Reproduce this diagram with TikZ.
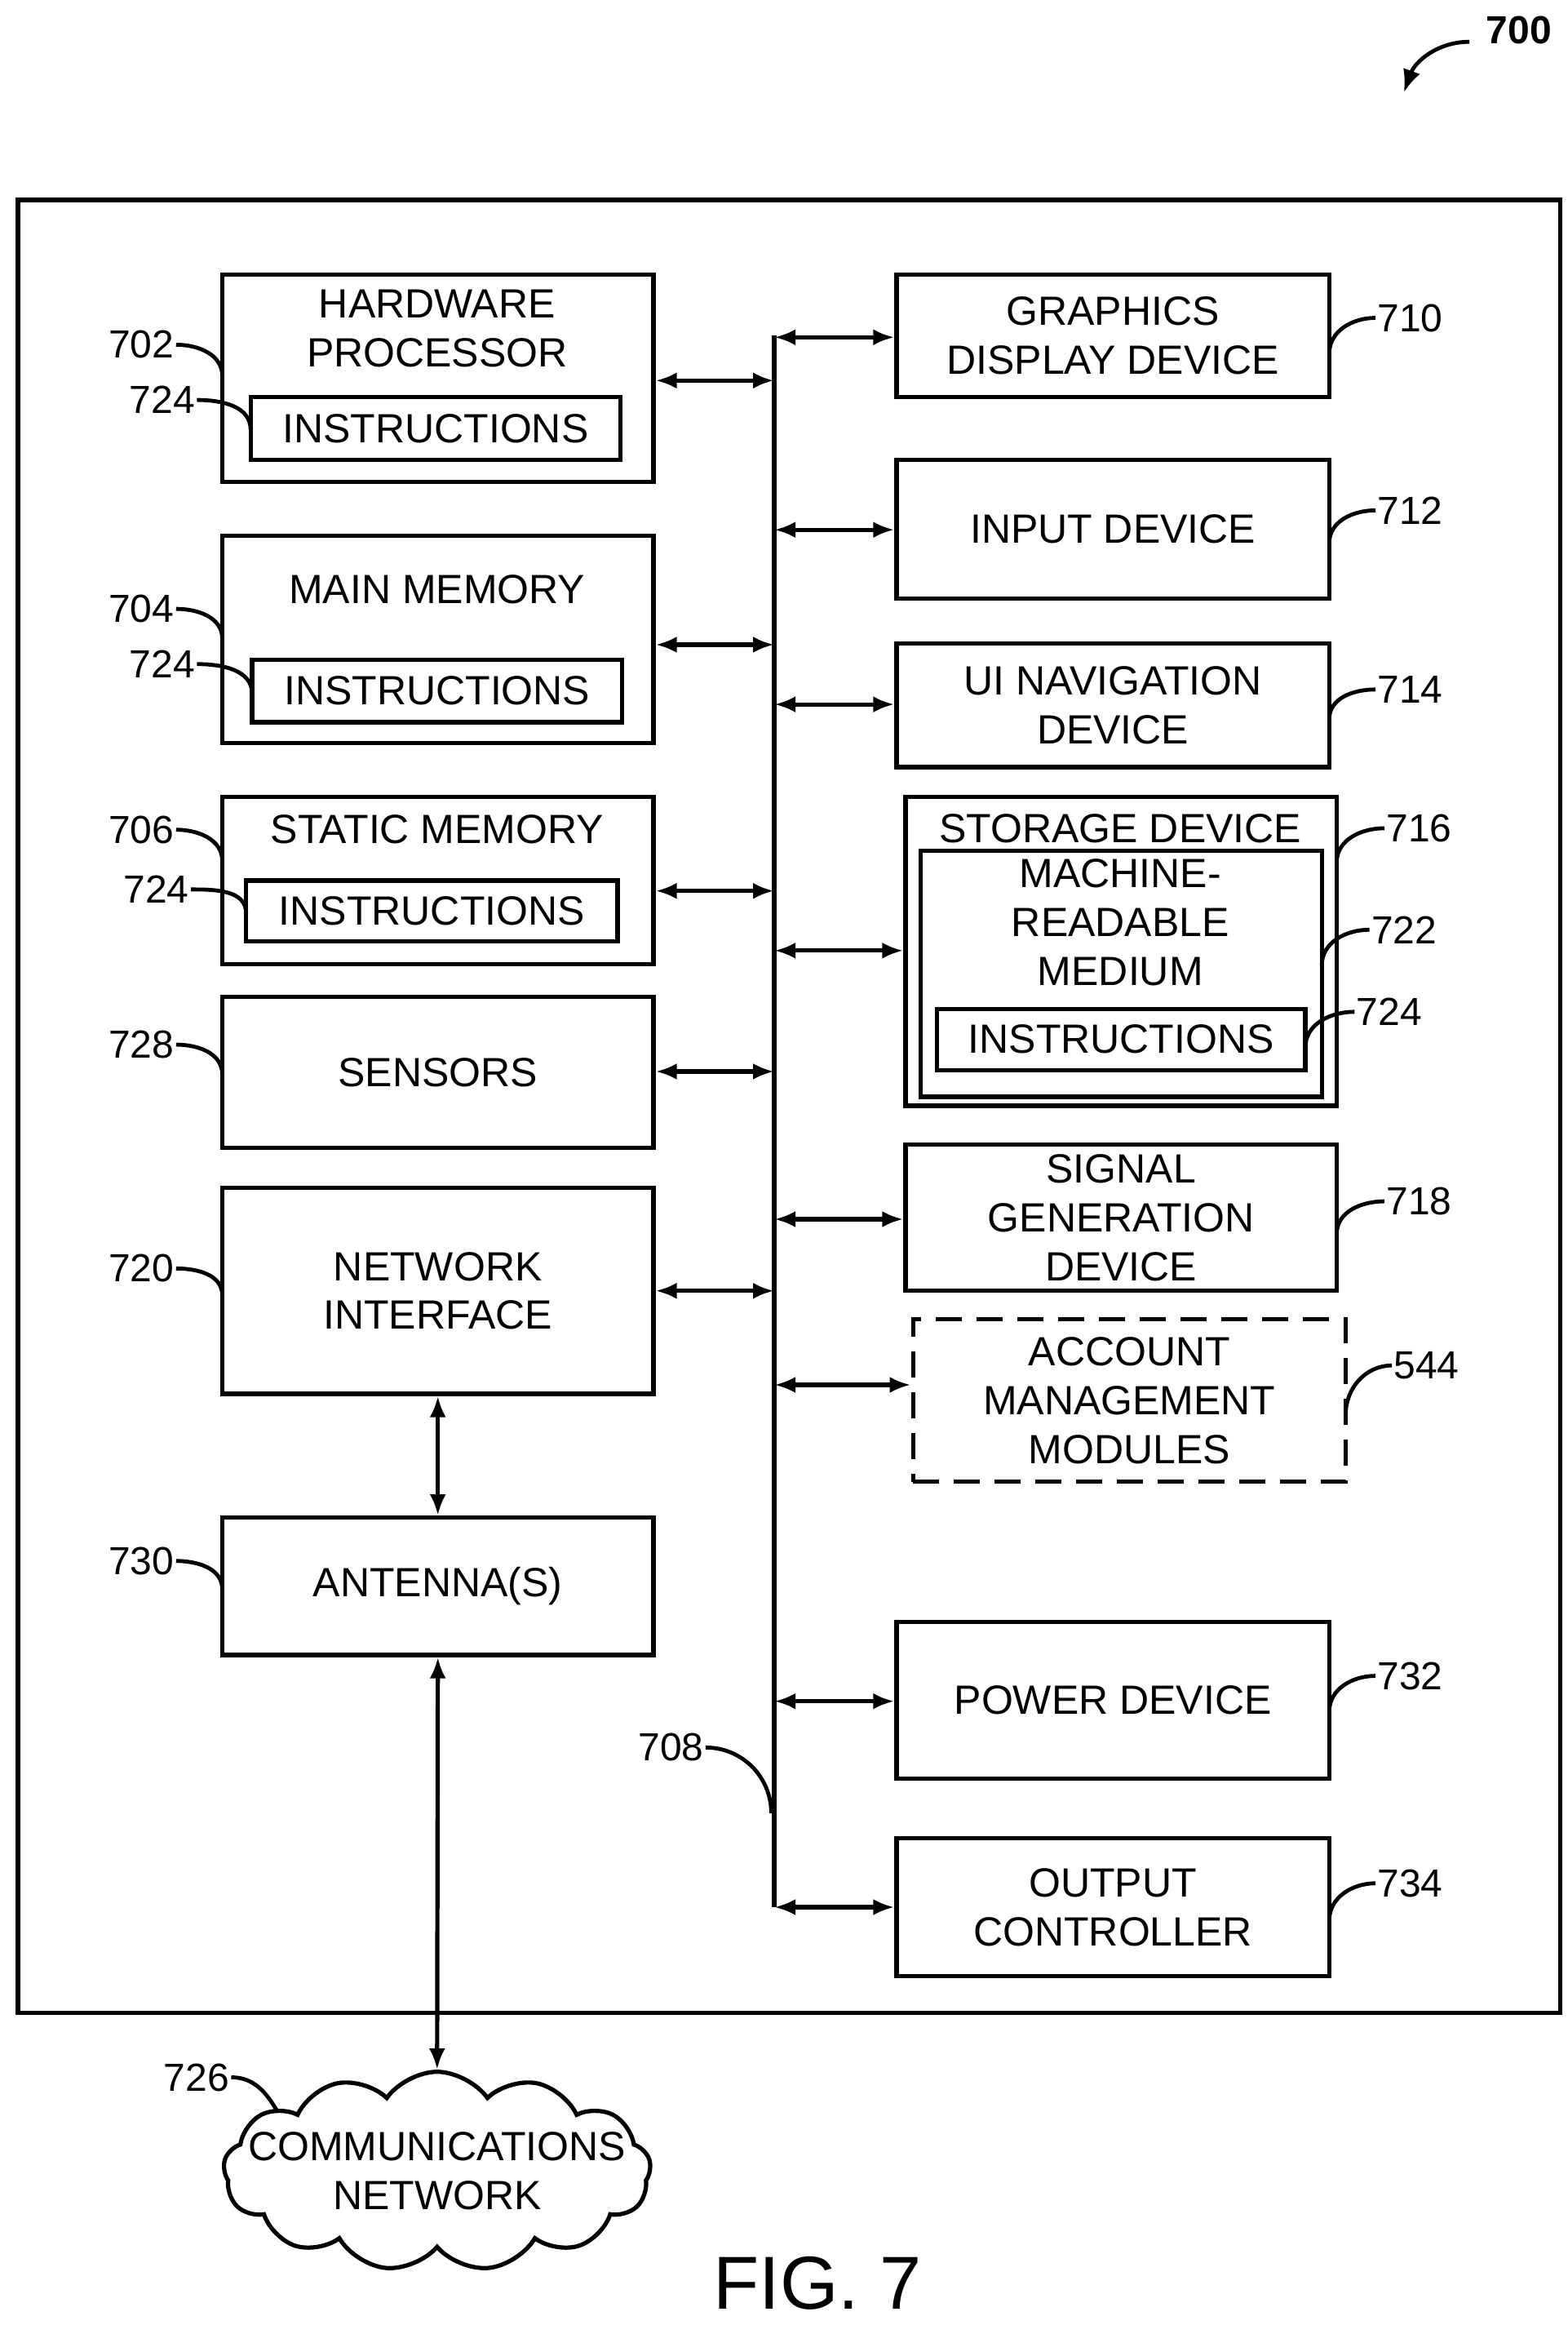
\documentclass[tikz,border=0pt]{standalone}
\usepackage{fontspec}
\setmainfont{Liberation Sans}
\usetikzlibrary{arrows.meta,fit,shapes.symbols}
\begin{document}
\begin{tikzpicture}[x=0.9145pt,y=-0.9145pt,
 box/.style={draw,line width=2.6pt,inner sep=0pt},
 txt/.style={align=center,font=\fontsize{25}{30}\selectfont,inner sep=0pt},
 lab/.style={font=\fontsize{24}{26}\selectfont,inner sep=1pt},
 lead/.style={line width=2.4pt},
 arr/.style={line width=2.6pt,{Latex[length=13pt,width=10pt]}-{Latex[length=13pt,width=10pt]}}]
\newcommand\bx[7][]{\node[box,#1,fit={(#3,#4)(#5,#6)}] (#2) {};\node[txt] at (#2.center) {#7};}
\useasboundingbox (0,0) rectangle (1051,1558);
\node[draw,line width=2.6pt,inner sep=0pt,fit={(12,134)(1046,1349)}] (outer) {};
% left
\bx{hp}{149}{184}{438}{323}{}
\node[txt] at (293,220) {HARDWARE\\PROCESSOR};
\bx{hpi}{168}{266}{416}{308}{INSTRUCTIONS}
\bx{mm}{149}{359}{438}{498}{}
\node[txt] at (293,395) {MAIN MEMORY};
\bx{mmi}{169}{442}{417}{484}{INSTRUCTIONS}
\bx{sm}{149}{534}{438}{646}{}
\node[txt] at (293,556) {STATIC MEMORY};
\bx{smi}{165}{590}{414}{631}{INSTRUCTIONS}
\bx{sen}{149}{668}{438}{769}{SENSORS}
\bx{ni}{149}{796}{438}{934}{NETWORK\\INTERFACE}
\bx{ant}{149}{1017}{438}{1109}{ANTENNA(S)}
% right
\bx{gd}{601}{184}{891}{266}{GRAPHICS\\DISPLAY DEVICE}
\bx{in}{601}{308}{891}{401}{INPUT DEVICE}
\bx{ui}{601}{431}{891}{514}{UI NAVIGATION\\DEVICE}
\bx{sd}{607}{534}{896}{741}{}
\node[txt] at (751,555) {STORAGE DEVICE};
\bx{mr}{617}{570}{886}{735}{}
\node[txt] at (751,618) {MACHINE-\\READABLE\\MEDIUM};
\bx{sdi}{628}{676}{875}{717}{INSTRUCTIONS}
\bx{sg}{607}{767}{896}{865}{SIGNAL\\GENERATION\\DEVICE}
\bx[dash pattern=on 16pt off 9pt]{am}{612}{884}{902}{993}{ACCOUNT\\MANAGEMENT\\MODULES}
\bx{pd}{601}{1087}{891}{1192}{POWER DEVICE}
\bx{oc}{601}{1232}{891}{1324}{OUTPUT\\CONTROLLER}
% bus
\coordinate (busT) at (519,225);
\coordinate (busB) at (519,1278);
\draw[line width=2.6pt] (busT) -- (busB);
\foreach \n/\y in {hp/255,mm/432,sm/597,sen/718,ni/865}
  \draw[arr] (\n.east |- 0,\y) -- (busT |- 0,\y);
\foreach \n/\y in {gd/226,in/355,ui/472,sd/637,sg/817,am/928,pd/1140,oc/1278}
  \draw[arr] (busT |- 0,\y) -- (\n.west |- 0,\y);
\draw[arr] (ni.south) -- (ant.north);
\node[cloud,draw,line width=2.6pt,cloud puffs=13,cloud puff arc=110,aspect=2.3,minimum width=262pt,minimum height=122pt] (cn) at (293,1455) {};
\node[txt] at (cn.center) {COMMUNICATIONS\\NETWORK};
\draw[arr] (ant.south) -- (cn.north);
% labels left
\foreach \t/\x/\y/\tx/\ty in {702/118/231/149/252, 724/132/268/168/288, 704/118/408/149/428, 724/132/445/169/465, 706/118/556/149/577, 724/128/596/165/612, 728/118/700/149/720, 720/118/850/149/868, 730/118/1046/149/1065}{
  \node[lab,anchor=east] at (\x,\y) {\t};
  \draw[lead] (\x,\y) to[out=0,in=90] (\tx,\ty);
}
% labels right
\foreach \t/\x/\y/\tx/\ty in {710/891/237/922/213, 712/891/364/922/342, 714/891/482/922/462, 716/896/578/928/555, 722/886/647/918/623, 724/875/702/908/678, 718/896/827/928/805, 544/902/948/933/915, 732/891/1147/922/1123, 734/891/1287/922/1262}{
  \node[lab,anchor=west] at (\tx,\ty) {\t};
  \draw[lead] (\x,\y) to[out=90,in=180] (\tx,\ty);
}
\node[lab,anchor=east] at (155,1392) {726};
\draw[lead] (155,1392) to[out=0,in=120] (186,1415);
\node[lab,anchor=east] (l708) at (473,1171) {708};
\draw[lead] (473,1171) to[out=0,in=90] (517,1215);
\node[lab,anchor=west] at (995,20) {\textbf{700}};
\draw[lead,-{Latex[length=14pt,width=11pt]}] (985,28) to[out=180,in=70] (941,62);
\node[font=\fontsize{46}{50}\selectfont] at (548,1530) {FIG. 7};
\end{tikzpicture}
\end{document}
